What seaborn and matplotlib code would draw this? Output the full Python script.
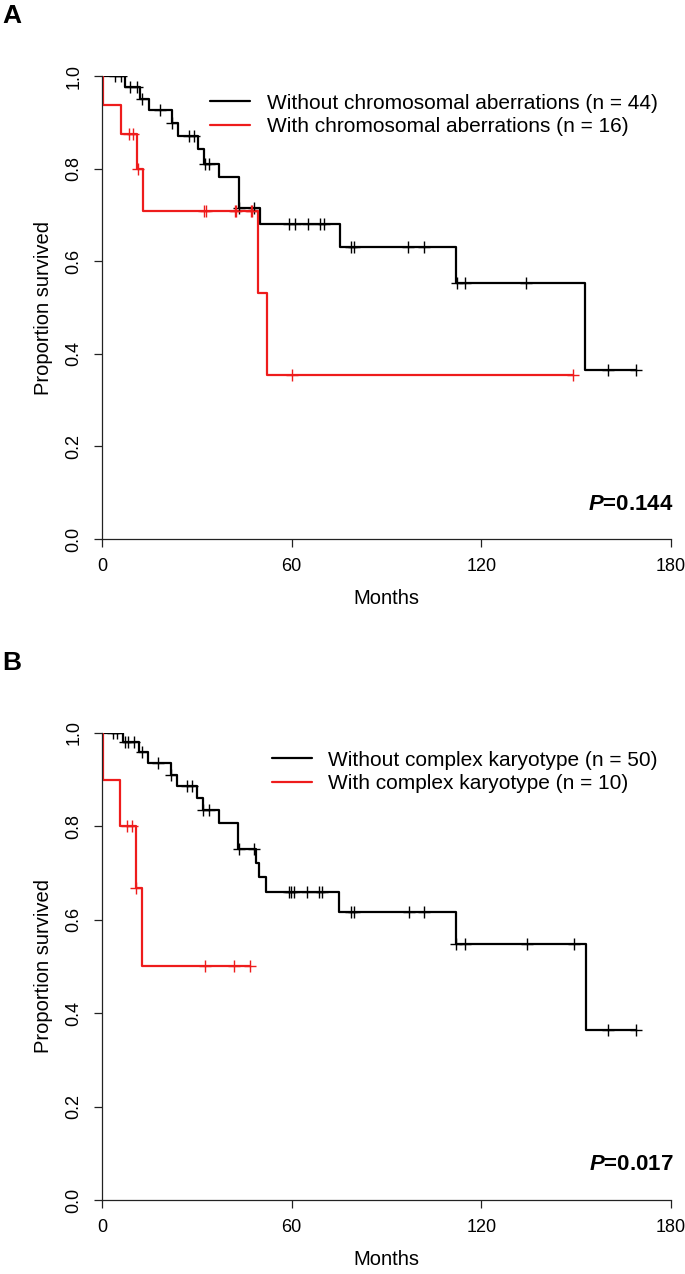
import numpy as np
import pandas as pd
import matplotlib
matplotlib.use("Agg")
import matplotlib.pyplot as plt
import seaborn as sns

# Kaplan-Meier curves: step start times (months) and survival level
A_BLACK_T = [0, 7.2, 12.1, 15.0, 22.1, 24.1, 30.3, 32.2, 37.0, 43.2, 50.0, 75.2, 112.0, 152.9, 169.0]
A_BLACK_S = [1.0, 0.977, 0.951, 0.926, 0.898, 0.870, 0.843, 0.810, 0.781, 0.716, 0.680, 0.631, 0.552, 0.365, 0.365]
A_BLACK_CENS = [4.1, 6.0, 8.9, 11.0, 12.6, 18.2, 22.3, 27.4, 29.0, 32.5, 34.0, 43.4, 48.1,
                59.3, 60.9, 65.1, 69.1, 70.2, 78.9, 79.7, 96.9, 102.0, 112.2, 114.9, 134.0, 160.0, 169.0]

A_RED_T = [0, 0.3, 6.0, 11.1, 13.1, 49.2, 52.2, 149.0]
A_RED_S = [1.0, 0.9375, 0.875, 0.80, 0.708, 0.531, 0.354, 0.354]
A_RED_CENS = [8.4, 9.9, 11.3, 32.2, 32.8, 42.1, 42.5, 47.1, 47.4, 60.0, 149.0]

B_BLACK_T = [0, 6.7, 11.8, 14.4, 21.7, 23.7, 30.0, 31.8, 36.9, 43.1, 48.8, 49.8, 52.0, 75.1, 111.9, 153.2, 169.0]
B_BLACK_S = [1.0, 0.980, 0.960, 0.935, 0.910, 0.887, 0.860, 0.834, 0.807, 0.751, 0.721, 0.691, 0.660, 0.617, 0.548, 0.365, 0.365]
B_BLACK_CENS = [3.6, 4.9, 7.4, 8.3, 10.2, 12.5, 17.6, 21.9, 26.9, 28.5, 32.0, 33.7, 43.3, 48.0,
                59.0, 59.8, 60.6, 64.8, 68.8, 69.6, 78.8, 79.6, 97.1, 101.9, 112.1, 114.9, 134.3, 149.3, 160.0, 169.0]

B_RED_T = [0, 0.3, 5.6, 10.7, 12.8, 46.8]
B_RED_S = [1.0, 0.9, 0.8, 0.667, 0.5, 0.5]
B_RED_CENS = [7.8, 9.6, 10.9, 32.7, 41.7, 46.8]

A_LABELS = ["Without chromosomal aberrations (n = 44)", "With chromosomal aberrations (n = 16)"]
B_LABELS = ["Without complex karyotype (n = 50)", "With complex karyotype (n = 10)"]
P_VALUES = ["0.144", "0.017"]
X_TICKS = [0, 60, 120, 180]
Y_TICKS = [0.0, 0.2, 0.4, 0.6, 0.8, 1.0]

sns.set_style("ticks")
plt.rcParams["font.family"] = ["Liberation Sans", "DejaVu Sans"]
plt.rcParams["mathtext.fontset"] = "custom"
plt.rcParams["mathtext.bfit"] = "Liberation Sans:italic:bold"
plt.rcParams["mathtext.rm"] = "Liberation Sans"
for key in ["text.color", "axes.labelcolor", "xtick.color", "ytick.color"]:
    plt.rcParams[key] = "black"

RED = "#ee1c1c"


def censor_levels(times, levels, cens):
    idx = np.searchsorted(times, cens, side="right") - 1
    return np.asarray(levels)[idx]


def km_panel(ax, curves, labels, pval):
    for (t, s, c), lab, col in zip(curves, labels, ["black", RED]):
        df = pd.DataFrame({"month": t, "surv": s})
        sns.lineplot(data=df, x="month", y="surv", ax=ax, color=col, label=lab,
                     drawstyle="steps-post", estimator=None, sort=False, linewidth=1.6)
        # censor marks
        cdf = pd.DataFrame({"month": c, "surv": censor_levels(t, s, c)})
        ax.plot(cdf["month"], cdf["surv"], linestyle="none", marker="+",
                markersize=8, markeredgewidth=1.0, color=col, zorder=3)

    ax.set_xlim(0, 180)
    ax.set_ylim(0, 1)
    ax.set_xticks(X_TICKS)
    ax.set_yticks(Y_TICKS)
    ax.set_yticklabels([f"{v:.1f}" for v in Y_TICKS], rotation=90, va="center")
    ax.tick_params(axis="both", direction="out", length=6, width=0.9, labelsize=13,
                   color="#222222", pad=8)
    for side in ["left", "bottom"]:
        ax.spines[side].set_linewidth(0.9)
        ax.spines[side].set_color("#222222")
    sns.despine(ax=ax)
    ax.set_xlabel("Months", fontsize=14.5, labelpad=10)
    ax.set_ylabel("Proportion survived", fontsize=14.5, labelpad=9)
    ax.legend(loc="upper right", bbox_to_anchor=(0.977, 0.962), frameon=False,
              fontsize=15, handlelength=1.92, handletextpad=0.8, labelspacing=0.2,
              borderpad=0, borderaxespad=0)
    ax.text(1.005, 0.075, r"$\mathbfit{P}$=" + pval, transform=ax.transAxes,
            ha="right", va="center", fontsize=16, fontweight="bold")


fig = plt.figure(figsize=(6.85, 12.74), dpi=100)
ax_a = fig.add_axes([0.1489, 0.5769, 0.8307, 0.3634])
ax_b = fig.add_axes([0.1489, 0.0581, 0.8307, 0.3666])

km_panel(ax_a, [(A_BLACK_T, A_BLACK_S, A_BLACK_CENS), (A_RED_T, A_RED_S, A_RED_CENS)],
         A_LABELS, P_VALUES[0])
km_panel(ax_b, [(B_BLACK_T, B_BLACK_S, B_BLACK_CENS), (B_RED_T, B_RED_S, B_RED_CENS)],
         B_LABELS, P_VALUES[1])

fig.text(0.003, 0.997, "A", fontsize=19, fontweight="bold", ha="left", va="top")
fig.text(0.003, 0.489, "B", fontsize=19, fontweight="bold", ha="left", va="top")

fig.savefig("out.png", dpi=100)
